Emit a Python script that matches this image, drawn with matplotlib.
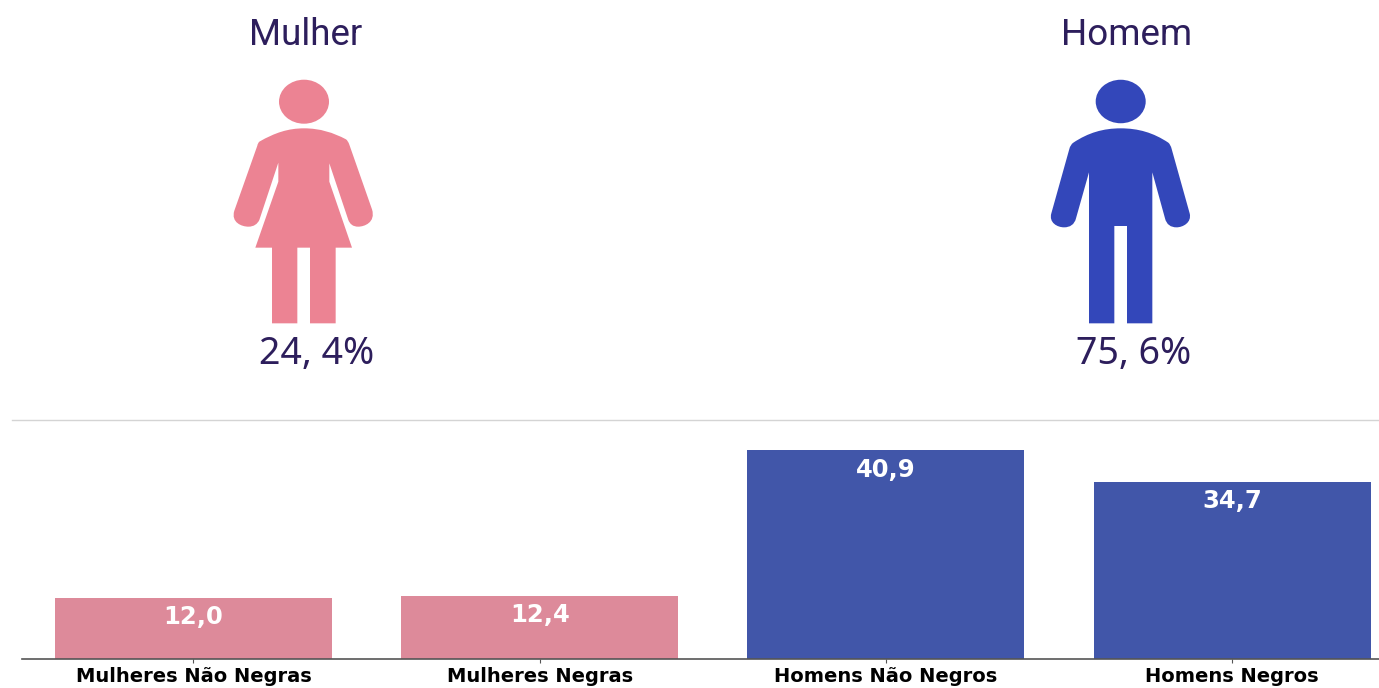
import matplotlib
matplotlib.use('Agg')
import matplotlib.pyplot as plt
from matplotlib.lines import Line2D
from matplotlib.patches import Ellipse, PathPatch
from matplotlib.path import Path

categorias = ['Mulheres Não Negras', 'Mulheres Negras', 'Homens Não Negros', 'Homens Negros']
valores = [12.0, 12.4, 40.9, 34.7]
generos = ['Mulher', 'Homem']
percentuais = ['24, 4%', '75, 6%']

cor_barras = ['#DD8A9A', '#DD8A9A', '#4156A9', '#4156A9']
cor_icones = ['#EC8393', '#3347BA']
cor_texto = '#2D1E5C'

W, H = 1379, 688
fig = plt.figure(figsize=(W / 100, H / 100), dpi=100)

# barras
ax = fig.add_axes([22 / W, (H - 659) / H, (W - 22) / W, (659 - 420) / H])
ax.bar(range(4), valores, width=0.8, color=cor_barras)
ax.set_xlim(-0.495, 3.424)
ax.set_ylim(0, 46.8)
ax.set_xticks(range(4))
ax.set_xticklabels(categorias, fontsize=14, fontweight='bold')
ax.set_yticks([])
ax.tick_params(axis='x', length=3, width=0.8, color='#555555', pad=3)
for lado in ['top', 'left', 'right']:
    ax.spines[lado].set_visible(False)
ax.spines['bottom'].set_color('#555555')
ax.spines['bottom'].set_linewidth(1.2)
for i, v in enumerate(valores):
    ax.annotate(('%.1f' % v).replace('.', ','), (i, v), xytext=(0, -14), textcoords='offset points',
                ha='center', va='center', color='white', fontsize=17.5, fontweight='bold')

# linha divisoria
fig.add_artist(Line2D([12 / W, 1], [(H - 420) / H] * 2, color='#D4D4D4', lw=1))

# camada em pixels para os icones
ov = fig.add_axes([0, 0, 1, 1])
ov.set_xlim(0, W)
ov.set_ylim(H, 0)
ov.axis('off')


def icone(x0, vertices, cor):
    # coordenadas medidas no recorte ampliado 3x
    verts = [(x0 + px / 3, py / 3) for px, py, _ in vertices]
    codes = [c for _, _, c in vertices]
    ov.add_patch(PathPatch(Path(verts, codes), facecolor=cor, edgecolor='none'))


M, L, C, K, Z = Path.MOVETO, Path.LINETO, Path.CURVE3, Path.CURVE4, Path.CLOSEPOLY
corpo_mulher = [
    (118, 425, M), (165, 398, K), (205, 385, K), (252, 385, K),
    (300, 385, K), (340, 398, K), (378, 418, K), (384, 422, C), (388, 434, C),
    (456, 628, L), (468, 668, K), (432, 680, K), (415, 680, K),
    (398, 680, K), (390, 672, K), (385, 660, K),
    (328, 490, L), (328, 545, L), (396, 743, L), (347, 743, L), (347, 970, L),
    (270, 970, L), (270, 743, L), (232, 743, L), (232, 970, L), (156, 970, L),
    (156, 743, L), (106, 743, L), (175, 545, L), (175, 488, L), (118, 660, L),
    (112, 672, K), (102, 680, K), (85, 680, K),
    (66, 680, K), (32, 668, K), (43, 632, K),
    (112, 437, L), (113, 430, C), (118, 425, C), (118, 425, Z),
]
corpo_homem = [
    (100, 428, M), (145, 398, K), (190, 385, K), (242, 385, K),
    (295, 385, K), (340, 398, K), (385, 428, K), (392, 434, C), (395, 447, C),
    (449, 640, L), (456, 668, K), (428, 682, K), (410, 682, K),
    (392, 682, K), (380, 674, K), (375, 655, K),
    (337, 517, L), (337, 970, L), (261, 970, L), (261, 678, L), (223, 678, L),
    (223, 970, L), (147, 970, L), (147, 517, L), (108, 655, L),
    (103, 674, K), (90, 682, K), (72, 682, K),
    (52, 682, K), (26, 668, K), (34, 640, K),
    (88, 447, L), (91, 434, C), (100, 428, C), (100, 428, Z),
]
icone(220, corpo_mulher, cor_icones[0])
icone(1040, corpo_homem, cor_icones[1])
ov.add_patch(Ellipse((304, 101.7), 50, 44, color=cor_icones[0], lw=0))
ov.add_patch(Ellipse((1120.7, 101.5), 50, 43.5, color=cor_icones[1], lw=0))

# textos
for x, g in zip([306, 1127], generos):
    ov.text(x, 35, g, ha='center', va='center', color=cor_texto, fontsize=26.5, family=['Roboto', 'DejaVu Sans'])
for x, p in zip([317, 1134], percentuais):
    ov.text(x, 354, p, ha='center', va='center', color=cor_texto, fontsize=27, family=['Noto Sans', 'DejaVu Sans'])

fig.savefig('out.png', dpi=100)
